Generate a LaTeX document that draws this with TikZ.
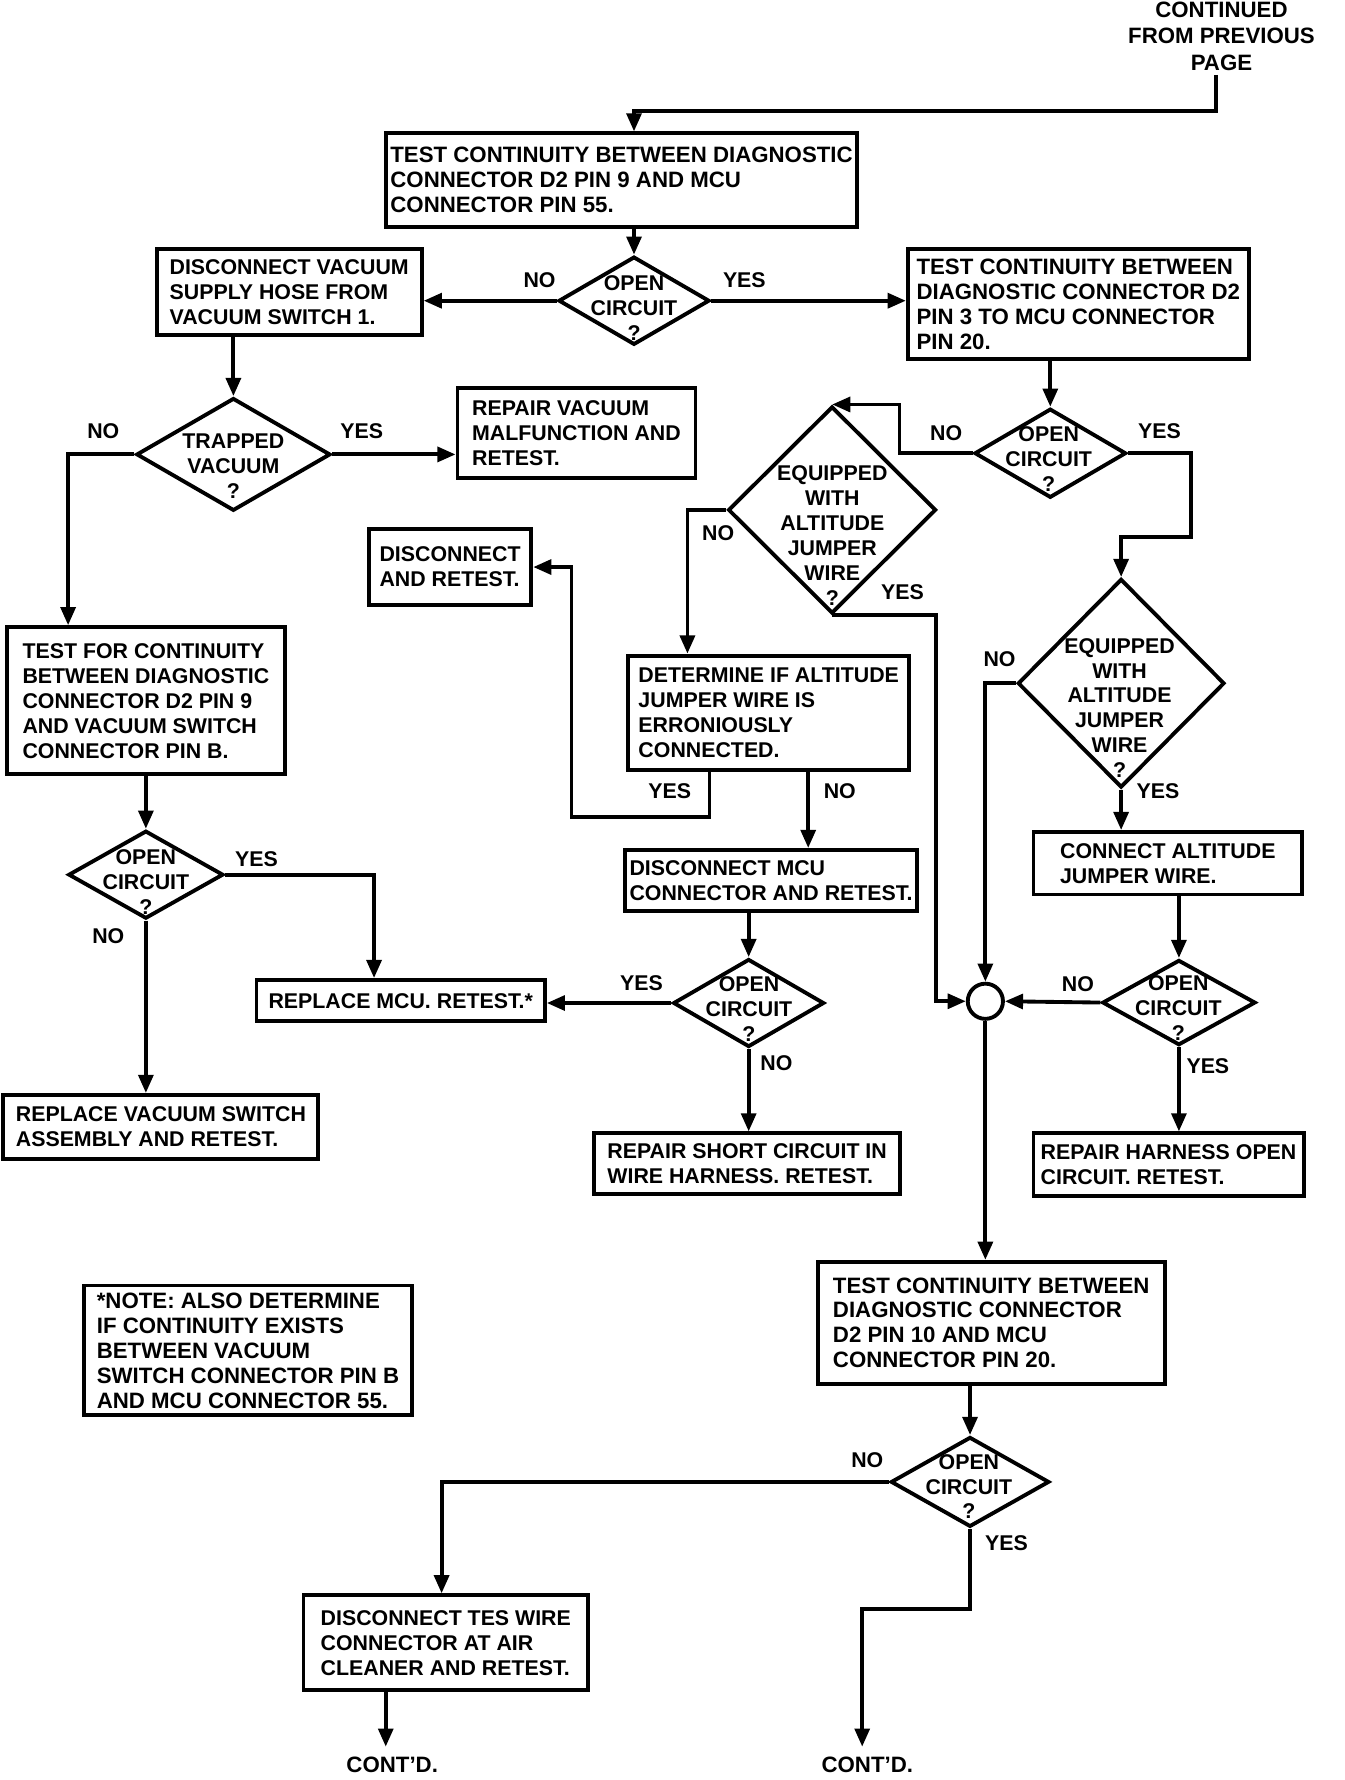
\documentclass[tikz,border=0pt]{standalone}
\usepackage{fontspec}
\setmainfont{Liberation Sans}
\usetikzlibrary{arrows.meta,shapes.geometric}
\newcommand{\dgfont}{\fontsize{9.4pt}{11pt}\selectfont\bfseries}
\newcommand{\dgwide}{\fontsize{9.8pt}{11pt}\selectfont\bfseries}
\begin{document}
\begin{tikzpicture}[x=0.5pt, y=-0.5pt,
  every node/.style={font=\dgfont},
  bx/.style 2 args={draw, line width=1.7pt, rectangle, inner sep=0pt, align=left, minimum width=#1, minimum height=#2},
  dm/.style 2 args={draw, line width=1.7pt, diamond, inner sep=0pt, minimum width=#1, minimum height=#2},
  dt/.style={align=center, inner sep=0pt},
  lb/.style={inner sep=0pt},
  arr/.style={line width=1.7pt, -{Triangle[length=8pt,width=6.5pt]}}]
\useasboundingbox (0,0) rectangle (1184,1568);

% top text
\node[dt, font=\fontsize{9.8pt}{11.75pt}\selectfont\bfseries] (top) at (1076,32) {CONTINUED\\FROM PREVIOUS\\PAGE};

% boxes
\node[bx={207.5pt}{41.15pt}, font=\dgwide] (A) at (547.5,158.65) {TEST CONTINUITY BETWEEN DIAGNOSTIC\\CONNECTOR D2 PIN 9 AND MCU\\CONNECTOR PIN 55.};
\node[bx={116.75pt}{37.75pt}] (B) at (254.75,257.25) {DISCONNECT VACUUM\\SUPPLY HOSE FROM\\VACUUM SWITCH 1.};
\node[bx={150.15pt}{48.3pt}, font=\dgwide] (C) at (949.85,267.7) {TEST CONTINUITY BETWEEN\\DIAGNOSTIC CONNECTOR D2\\PIN 3 TO MCU CONNECTOR\\PIN 20.};
\node[bx={104.8pt}{39.35pt}] (E) at (507.8,381.35) {REPAIR VACUUM\\MALFUNCTION AND\\RETEST.};
\node[bx={122.5pt}{64.75pt}] (D) at (128.5,617.25) {TEST FOR CONTINUITY\\BETWEEN DIAGNOSTIC\\CONNECTOR D2 PIN 9\\AND VACUUM SWITCH\\CONNECTOR PIN B.};
\node[bx={71.5pt}{33.5pt}] (H) at (396.5,499.5) {DISCONNECT\\AND RETEST.};
\node[bx={123.85pt}{50.45pt}] (I) at (677.15,627.95) {DETERMINE IF ALTITUDE\\JUMPER WIRE IS\\ERRONIOUSLY\\CONNECTED.};
\node[bx={128.8pt}{26.95pt}] (K) at (679.2,775.65) {DISCONNECT MCU\\CONNECTOR AND RETEST.};
\node[bx={127pt}{18.2pt}] (F) at (353,881.5) {REPLACE MCU. RETEST.*};
\node[bx={138.75pt}{28.25pt}] (G) at (141.75,992.75) {REPLACE VACUUM SWITCH\\ASSEMBLY AND RETEST.};
\node[bx={134.85pt}{26.8pt}] (L) at (658.15,1025.2) {REPAIR SHORT CIRCUIT IN\\WIRE HARNESS. RETEST.};
\node[bx={118.3pt}{27.55pt}] (M) at (1028.7,760.45) {CONNECT ALTITUDE\\JUMPER WIRE.};
\node[bx={118.95pt}{27.7pt}] (N) at (1029.35,1026.1) {REPAIR HARNESS OPEN\\CIRCUIT. RETEST.};
\node[bx={152.85pt}{53.75pt}, font=\dgwide] (O) at (873.15,1165.25) {TEST CONTINUITY BETWEEN\\DIAGNOSTIC CONNECTOR\\D2 PIN 10 AND MCU\\CONNECTOR PIN 20.};
\node[bx={125.3pt}{41.85pt}] (P) at (392.7,1447.15) {DISCONNECT TES WIRE\\CONNECTOR AT AIR\\CLEANER AND RETEST.};
\node[bx={144.5pt}{57.15pt}, font=\dgwide] (Q) at (218.5,1189.55) {*NOTE: ALSO DETERMINE\\IF CONTINUITY EXISTS\\BETWEEN VACUUM\\SWITCH CONNECTOR PIN B\\AND MCU CONNECTOR 55.};

% diamonds
\node[dm={66.5pt}{38.85pt}] (d1) at (558.5,264.9) {};
\node[dm={85.5pt}{49.65pt}] (d2) at (205.6,400.3) {};
\node[dm={68.3pt}{38.75pt}] (d3) at (128.5,770.5) {};
\node[dm={91.6pt}{91.2pt}] (d4) at (733,449.2) {};
\node[dm={66.8pt}{39.25pt}] (d5) at (925.2,399.25) {};
\node[dm={66.5pt}{38.75pt}] (d6) at (659.5,883.55) {};
\node[dm={91.05pt}{91.9pt}] (d7) at (987.6,601.9) {};
\node[dm={67.5pt}{37.55pt}] (d8) at (1038.5,883.15) {};
\node[dm={69.8pt}{39.6pt}] (d9) at (854.5,1305.4) {};

\node[dt] (t1) at (558.5,271) {OPEN\\CIRCUIT\\?};
\node[dt] (t2) at (205.6,410.5) {TRAPPED\\VACUUM\\?};
\node[dt] (t3) at (128.5,777.3) {OPEN\\CIRCUIT\\?};
\node[dt] (t4) at (733.2,472) {EQUIPPED\\WITH\\ALTITUDE\\JUMPER\\WIRE\\?};
\node[dt] (t5) at (923.8,404) {OPEN\\CIRCUIT\\?};
\node[dt] (t6) at (659.8,888.5) {OPEN\\CIRCUIT\\?};
\node[dt] (t7) at (986.2,623.7) {EQUIPPED\\WITH\\ALTITUDE\\JUMPER\\WIRE\\?};
\node[dt] (t8) at (1038,888.3) {OPEN\\CIRCUIT\\?};
\node[dt] (t9) at (853.5,1309.5) {OPEN\\CIRCUIT\\?};

% junction circle
\node[draw, circle, line width=1.7pt, minimum size=15.5pt, inner sep=0pt] (J) at (868,882) {};

% end texts
\node[lb, inner ysep=4.5pt, font=\dgwide] (cd1) at (345.5,1555) {CONT'D.};
\node[lb, inner ysep=4.5pt, font=\dgwide] (cd2) at (764,1555) {CONT'D.};

% labels
\node[lb] (n1) at (475.3,246.7) {NO};
\node[lb] (y1) at (655.7,246.7) {YES};
\node[lb] (n2) at (91,380) {NO};
\node[lb] (y2) at (318.7,380) {YES};
\node[lb] (y3) at (226,757) {YES};
\node[lb] (n3) at (95.4,824.6) {NO};
\node[lb] (n4) at (632.6,469.6) {NO};
\node[lb] (y4) at (795,522) {YES};
\node[lb] (yI) at (590,697.2) {YES};
\node[lb] (nI) at (739.8,697) {NO};
\node[lb] (n5) at (833.5,381.9) {NO};
\node[lb] (y5) at (1021.4,380) {YES};
\node[lb] (y6) at (565,866) {YES};
\node[lb] (n6) at (684,936.8) {NO};
\node[lb] (n7) at (880.5,580.8) {NO};
\node[lb] (y7) at (1020,697) {YES};
\node[lb] (n8) at (949.5,866.7) {NO};
\node[lb] (y8) at (1064,939) {YES};
\node[lb] (n9) at (764,1286) {NO};
\node[lb] (y9) at (886.6,1359.7) {YES};

% helper coordinates
\coordinate (c0) at (1071,66);
\coordinate (c1) at (1071,98);
\coordinate (k5) at (1049.5,473);
\coordinate (kI) at (503.4,720);
\coordinate (k9) at (759.5,1417);
\coordinate (dN) at ([xshift=-34.25pt]D.north);
\coordinate (fN) at ([xshift=-11.75pt]F.north);
\coordinate (d4r) at ([xshift=29.7pt]d4.north);
\coordinate (iNw) at ([xshift=-35.8pt]I.north);
\coordinate (jW) at ([xshift=-13.25pt]J.west);
\coordinate (iSy) at ([xshift=-26.1pt]I.south);
\coordinate (iSn) at ([xshift=17.4pt]I.south);
\coordinate (pN) at ([xshift=-1.85pt]P.north);
\coordinate (pS) at ([xshift=-26.45pt]P.south);

% connectors
\draw[arr] (c0) -- (c1) -| (A.north -| d1.north);
\draw[arr] (A.south -| d1.north) -- (d1.north);
\draw[arr] (d1.west) -- (d1.west -| B.east);
\draw[arr] (d1.east) -- (d1.east -| C.west);
\draw[arr] (B.south -| d2.north) -- (d2.north);
\draw[arr] (d2.west) -| (dN);
\draw[arr] (d2.east) -- (d2.east -| E.west);
\draw[arr] (D.south -| d3.north) -- (d3.north);
\draw[arr] (d3.east) -| (fN);
\draw[arr] (d3.south) -- (d3.south |- G.north);
\draw[arr] (C.south -| d5.north) -- (d5.north);
\draw[arr] (d5.west) -| (d4r) -- (d4.north);
\draw[arr] (d5.east) -| (k5) -| (d7.north);
\draw[arr] (d4.west) -| (iNw);
\draw[arr] (d4.south) -| (jW) -- (J.west);
\draw[arr] (iSy) |- (kI) |- (H.east);
\draw[arr] (iSn) -- (iSn |- K.north);
\draw[arr] (K.south -| d6.north) -- (d6.north);
\draw[arr] (d6.west) -- (d6.west -| F.east);
\draw[arr] (d6.south) -- (d6.south |- L.north);
\draw[arr] (d7.west) -| (J.north);
\draw[arr] (d7.south) -- (d7.south |- M.north);
\draw[arr] (M.south -| d8.north) -- (d8.north);
\draw[arr] (d8.west) -- (J.east);
\draw[arr] (d8.south) -- (d8.south |- N.north);
\draw[arr] (J.south) -- (J.south |- O.north);
\draw[arr] (O.south -| d9.north) -- (d9.north);
\draw[arr] (d9.west) -| (pN);
\draw[arr] (d9.south) |- (k9) -- (k9 |- cd2.north);
\draw[arr] (pS) -- (pS |- cd1.north);
\end{tikzpicture}
\end{document}
